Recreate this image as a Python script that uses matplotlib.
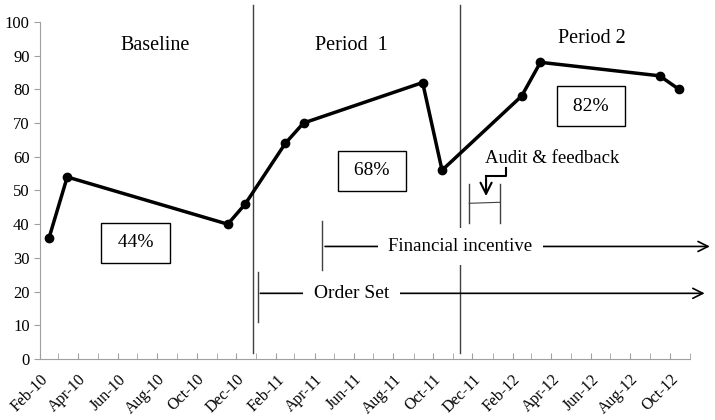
import datetime as dt
import matplotlib
matplotlib.use("Agg")
import matplotlib.pyplot as plt
import matplotlib.dates as mdates
import matplotlib.transforms as mtransforms

plt.rcParams['font.family'] = ['Liberation Serif', 'DejaVu Serif']

# data
dates = ["2010-02-15", "2010-03-15", "2010-11-18", "2010-12-15",
         "2011-02-15", "2011-03-15", "2011-09-15", "2011-10-15",
         "2012-02-15", "2012-03-15", "2012-09-15", "2012-10-15"]
values = [36, 54, 40, 46, 64, 70, 82, 56, 78, 88, 84, 80]

period_names = ["Baseline", "Period  1", "Period 2"]
period_label_dates = ["2010-07-29", "2011-05-28", "2012-06-03"]
period_label_y = [93, 93, 95]
period_means = ["44%", "68%", "82%"]
mean_dates = ["2010-06-29", "2011-06-29", "2012-06-01"]
mean_y = [34.5, 55.8, 75]
period_breaks = ["2010-12-27", "2011-11-12"]

def d(s):
    return mdates.date2num(dt.datetime.strptime(s, "%Y-%m-%d"))

x = [d(s) for s in dates]

fig = plt.figure(figsize=(7.15, 4.2), dpi=100)
ax = fig.add_axes([0.056, 0.145, 0.909, 0.803])

ax.plot(x, values, color='black', lw=2.5, marker='o', ms=6, zorder=3)

ax.set_xlim(d("2010-02-01"), d("2012-11-01"))
ax.set_ylim(0, 100)
ax.set_yticks(range(0, 101, 10))
ax.xaxis.set_major_locator(mdates.MonthLocator(bymonth=[2, 4, 6, 8, 10, 12]))
ax.xaxis.set_minor_locator(mdates.MonthLocator())
ax.xaxis.set_major_formatter(mdates.DateFormatter('%b-%y'))
shift = mtransforms.ScaledTranslation(14 / 100, 0, fig.dpi_scale_trans)
for lab in ax.get_xticklabels():
    lab.set_rotation(45)
    lab.set_ha('right')
    lab.set_rotation_mode('anchor')
    lab.set_transform(lab.get_transform() + shift)
ax.tick_params(axis='x', which='both', direction='in', length=4, color='#a0a0a0',
               labelsize=11.5, pad=9)
ax.tick_params(axis='y', direction='out', length=4, color='#a0a0a0', labelsize=12)
for s in ['top', 'right']:
    ax.spines[s].set_visible(False)
for s in ['left', 'bottom']:
    ax.spines[s].set_color('#a0a0a0')

# period separators
for b in period_breaks:
    ax.plot([d(b), d(b)], [1.8, 105], color='#404040', lw=1, clip_on=False)

for name, xd, yy in zip(period_names, period_label_dates, period_label_y):
    ax.text(d(xd), yy, name, ha='center', va='center', fontsize=14.5)

for m, xd, yy in zip(period_means, mean_dates, mean_y):
    ax.text(d(xd), yy, " " + m + " ", ha='center', va='center', fontsize=14,
            bbox=dict(boxstyle='square,pad=0.6', fc='white', ec='black', lw=1))

# Order Set
ax.plot([d("2011-01-03")] * 2, [10.9, 25.7], color='#404040', lw=1)
ax.annotate("", xy=(d("2012-11-28"), 19.5), xytext=(d("2011-01-03"), 19.5),
            arrowprops=dict(arrowstyle='->', lw=1.2, color='black', mutation_scale=18),
            annotation_clip=False)
ax.text(d("2011-05-28"), 19.5, "Order Set", ha='center', va='center', fontsize=14,
        bbox=dict(boxstyle='square,pad=0.55', fc='white', ec='none'))

# Financial incentive
ax.plot([d("2011-04-13")] * 2, [26.3, 40.8], color='#404040', lw=1)
ax.annotate("", xy=(d("2012-12-06"), 33.4), xytext=(d("2011-04-13"), 33.4),
            arrowprops=dict(arrowstyle='->', lw=1.2, color='black', mutation_scale=18),
            annotation_clip=False)
ax.text(d("2011-11-12"), 33.4, "Financial incentive", ha='center', va='center', fontsize=13.5,
        bbox=dict(boxstyle='square,pad=0.55', fc='white', ec='none'))

# Audit & feedback
ax.plot([d("2011-11-26")] * 2, [40.5, 52], color='#404040', lw=1)
ax.plot([d("2012-01-13")] * 2, [40.5, 52], color='#404040', lw=1)
ax.plot([d("2011-11-26"), d("2012-01-13")], [46.2, 46.5], color='#404040', lw=0.8)
ax.plot([d("2012-01-22"), d("2012-01-22"), d("2011-12-22")], [56.8, 54.4, 54.4],
        color='black', lw=1.5)
ax.annotate("", xy=(d("2011-12-22"), 47.5), xytext=(d("2011-12-22"), 54.6),
            arrowprops=dict(arrowstyle='->', lw=1.5, color='black', mutation_scale=20))
ax.text(d("2012-04-02"), 59.5, "Audit & feedback", ha='center', va='center', fontsize=13.5)

fig.savefig("out.png", dpi=100)
